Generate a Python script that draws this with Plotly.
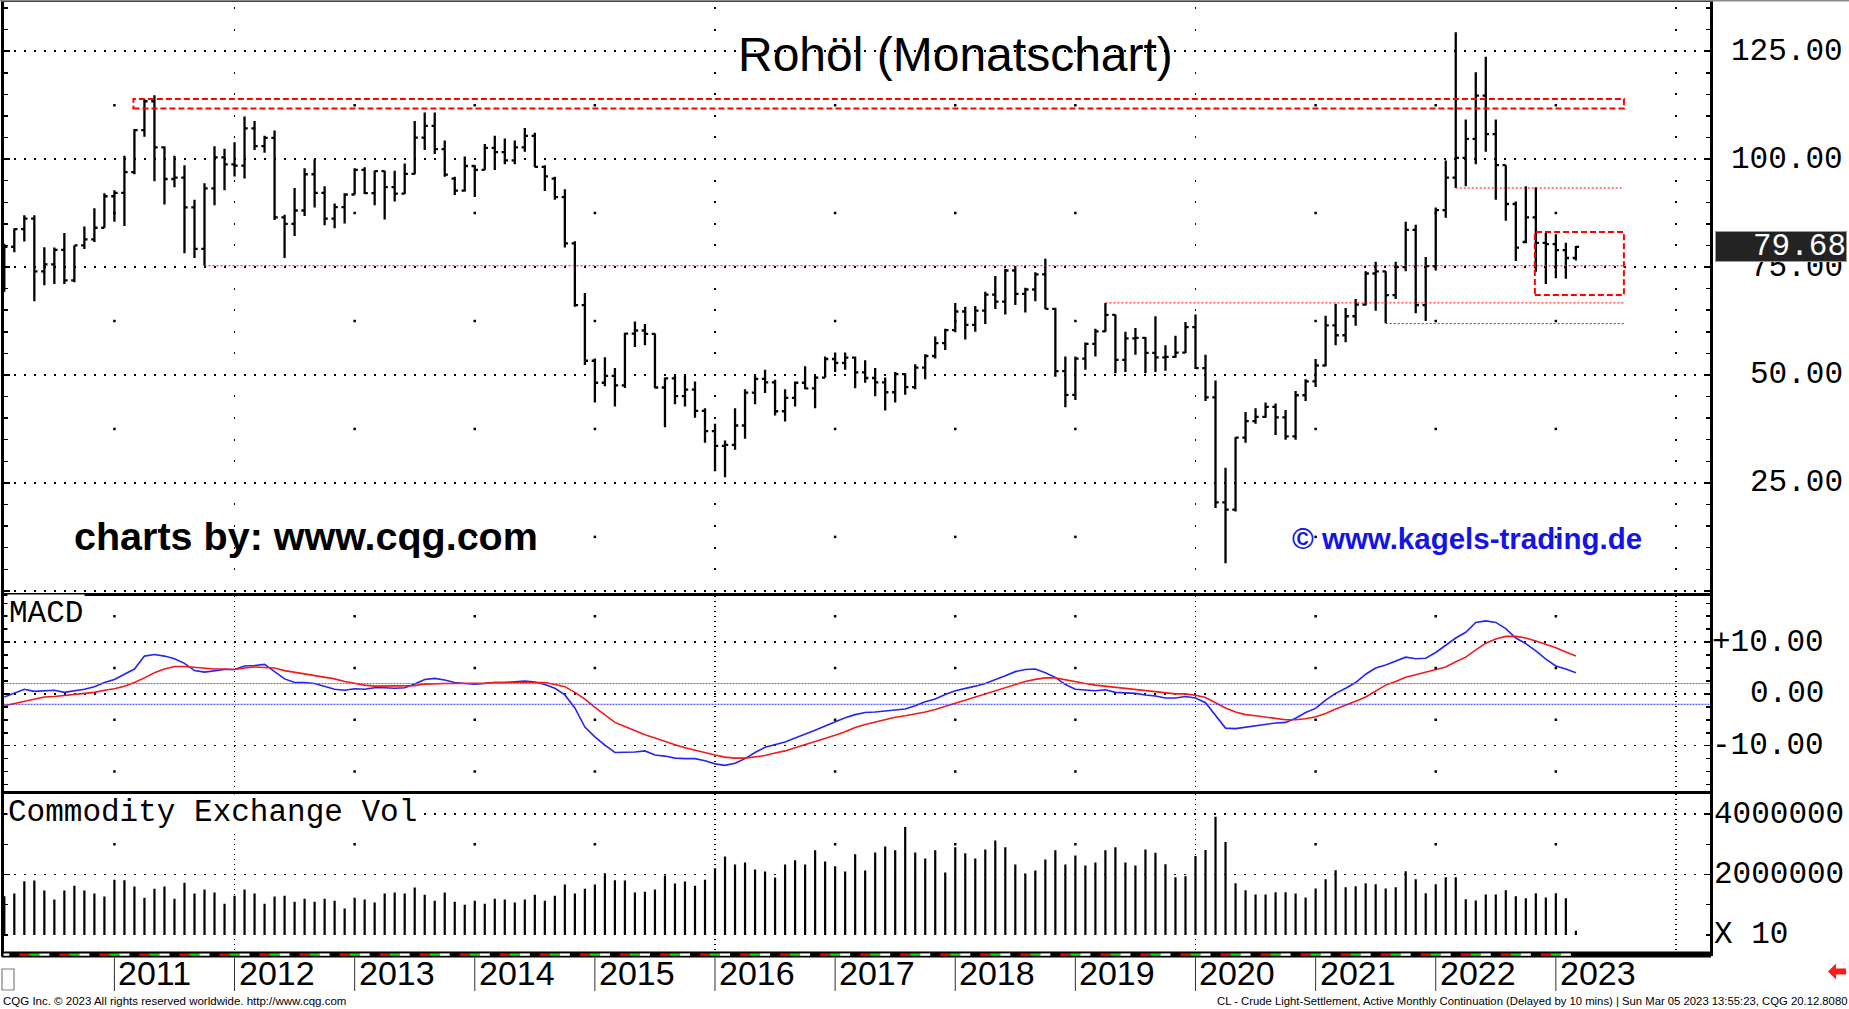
import plotly.graph_objects as go
import pandas as pd

# ---------------- data ----------------
months = [p.strftime("%Y-%m") for p in pd.period_range("2010-02", "2023-03", freq="M")]

opens = [
    72.9, 79.7, 83.8, 86.2, 74.0, 75.6, 79.0, 71.9, 80.0, 81.4, 84.1,
    91.4, 92.2, 97.0, 106.7, 113.4, 102.7, 95.4, 95.7, 88.8, 79.2, 93.2, 100.4,
    98.8, 98.5, 107.1, 103.0, 104.9, 86.5, 85.0, 88.1, 96.5, 92.2, 86.2, 88.9,
    91.8, 97.5, 92.1, 97.2, 93.5, 92.0, 96.6, 105.0, 107.7, 102.3, 95.5, 92.7,
    98.4, 97.5, 102.6, 101.6, 99.7, 102.7, 105.4, 98.2, 95.5, 91.2, 80.5, 66.2,
    53.3, 48.2, 49.8, 47.6, 59.6, 60.3, 59.5, 47.1, 49.2, 45.1, 46.6, 41.7,
    37.0, 33.6, 33.8, 38.3, 45.9, 49.1, 48.3, 41.6, 44.7, 48.2, 46.9, 49.4,
    53.7, 52.8, 54.0, 50.6, 49.3, 48.3, 46.0, 50.2, 47.2, 51.7, 54.4, 57.4,
    60.4, 64.7, 61.6, 64.9, 68.6, 67.0, 74.2, 68.8, 69.8, 73.3, 65.3, 50.9,
    45.4, 53.8, 57.2, 60.1, 63.9, 53.5, 58.5, 58.6, 55.1, 54.1, 54.2, 55.2,
    61.1, 51.6, 44.8, 20.5, 18.8, 35.5, 39.3, 40.3, 42.6, 40.2, 35.8, 45.3,
    48.5, 52.2, 61.5, 59.2, 63.6, 66.3, 73.5, 74.0, 68.5, 75.0, 83.6, 66.2,
    75.2, 88.2, 95.7, 100.3, 104.7, 114.7, 105.8, 98.6, 89.6, 80.8, 86.5, 80.6,
    80.3, 78.9, 77.1,
]
highs = [
    80.4, 83.9, 87.0, 87.0, 79.6, 79.5, 82.9, 80.0, 84.4, 88.6, 92.1,
    92.8, 100.8, 107.0, 113.9, 114.8, 103.0, 100.8, 98.6, 90.6, 94.4, 103.0, 102.4,
    103.9, 109.9, 108.8, 105.4, 106.6, 87.1, 93.3, 97.9, 99.9, 93.7, 89.7, 92.1,
    97.9, 98.1, 97.3, 97.3, 97.3, 99.0, 108.8, 110.8, 110.8, 104.3, 95.9, 100.6,
    98.6, 103.5, 105.4, 104.8, 104.3, 107.2, 106.1, 98.6, 95.9, 93.0, 81.0, 69.0,
    53.8, 54.1, 51.6, 59.8, 62.4, 61.8, 59.6, 49.4, 49.8, 49.8, 48.5, 42.3,
    38.7, 34.8, 42.3, 46.7, 49.8, 51.2, 48.9, 46.7, 48.5, 52.0, 49.8, 54.3,
    55.2, 55.2, 54.3, 53.4, 51.6, 49.4, 50.7, 50.4, 52.5, 54.8, 58.9, 60.7,
    66.7, 65.8, 66.0, 69.3, 72.9, 74.6, 75.1, 70.2, 73.8, 76.9, 65.6, 54.3,
    54.3, 57.5, 60.7, 66.7, 64.0, 60.0, 60.9, 58.8, 63.6, 56.9, 59.1, 62.3,
    64.0, 54.7, 48.7, 28.5, 35.6, 41.4, 42.3, 43.6, 43.4, 41.9, 46.3, 49.0,
    53.7, 63.7, 66.5, 65.5, 67.6, 74.0, 76.2, 74.0, 76.2, 85.5, 84.8, 77.3,
    88.8, 99.7, 129.4, 109.2, 120.1, 123.7, 109.2, 98.6, 90.2, 93.7, 93.5, 82.9,
    82.6, 80.6, 79.9,
]
lows = [
    69.3, 78.4, 80.9, 67.1, 70.8, 71.1, 71.1, 71.5, 79.2, 80.8, 84.1,
    85.5, 84.5, 96.5, 105.2, 94.9, 89.5, 93.5, 78.2, 77.1, 75.3, 89.3, 92.8,
    96.0, 95.5, 102.1, 101.5, 85.9, 77.1, 82.2, 86.8, 88.8, 84.7, 84.0, 85.1,
    91.8, 91.9, 89.3, 86.0, 90.2, 91.9, 96.5, 102.1, 101.2, 95.9, 91.7, 92.5,
    91.2, 97.5, 97.5, 98.8, 98.8, 101.7, 98.1, 92.6, 90.6, 79.5, 65.8, 52.3,
    43.6, 47.4, 42.7, 47.0, 56.5, 56.9, 46.9, 37.9, 43.2, 42.7, 40.1, 34.3,
    27.7, 26.3, 32.7, 35.2, 43.2, 45.8, 40.6, 39.2, 42.7, 46.7, 42.3, 49.4,
    50.7, 51.2, 46.9, 48.2, 45.1, 41.8, 43.6, 45.4, 46.7, 49.0, 53.8, 55.8,
    59.9, 58.2, 60.0, 61.8, 65.3, 64.0, 66.2, 64.5, 67.1, 65.3, 49.6, 42.5,
    44.2, 51.2, 54.3, 60.0, 50.4, 50.7, 54.7, 50.4, 50.7, 51.0, 54.0, 55.1,
    51.4, 44.0, 19.2, 6.4, 18.4, 34.3, 38.7, 40.1, 36.1, 35.0, 35.0, 44.0,
    47.2, 52.0, 56.9, 57.6, 61.4, 66.1, 64.9, 62.0, 67.6, 74.0, 64.3, 62.5,
    74.2, 86.4, 93.3, 93.7, 98.8, 101.7, 90.6, 85.7, 76.4, 80.5, 73.9, 71.1,
    72.4, 72.3, 76.5,
]
closes = [
    79.7, 83.8, 86.2, 74.0, 75.6, 79.0, 71.9, 80.0, 81.4, 84.1, 91.4,
    92.2, 97.0, 106.7, 113.4, 102.7, 95.4, 95.7, 88.8, 79.2, 93.2, 100.4, 98.8,
    98.5, 107.1, 103.0, 104.9, 86.5, 85.0, 88.1, 96.5, 92.2, 86.2, 88.9, 91.8,
    97.5, 92.1, 97.2, 93.5, 92.0, 96.6, 105.0, 107.7, 102.3, 96.4, 92.7, 98.4,
    97.5, 102.6, 101.6, 99.7, 102.7, 105.4, 98.2, 96.0, 91.2, 80.5, 66.2, 53.3,
    48.2, 49.8, 47.6, 59.6, 60.3, 59.5, 47.1, 49.2, 45.1, 46.6, 41.7, 37.0,
    33.6, 33.8, 38.3, 45.9, 49.1, 48.3, 41.6, 44.7, 48.2, 46.9, 49.4, 53.7,
    52.8, 54.0, 50.6, 49.3, 48.3, 46.0, 50.2, 47.2, 51.7, 54.4, 57.4, 60.4,
    64.7, 61.6, 64.9, 68.6, 67.0, 74.2, 68.8, 69.8, 73.3, 65.3, 50.9, 45.4,
    53.8, 57.2, 60.1, 63.9, 53.5, 58.5, 58.6, 55.1, 54.1, 54.2, 55.2, 61.1,
    51.6, 44.8, 20.5, 18.8, 35.5, 39.3, 40.3, 42.6, 40.2, 35.8, 45.3, 48.5,
    52.2, 61.5, 59.2, 63.6, 66.3, 73.5, 74.0, 68.5, 75.0, 83.6, 66.2, 75.2,
    88.2, 95.7, 100.3, 104.7, 114.7, 105.8, 98.6, 89.6, 79.5, 86.5, 80.6, 80.3,
    78.9, 77.1, 79.68,
]
macd_line = [
    -0.6, 0.1, 0.9, 0.5, 0.6, 0.7, 0.3, 0.6, 0.9, 1.4, 2.2,
    2.8, 3.8, 4.8, 7.3, 7.6, 7.3, 6.8, 5.9, 4.5, 4.2, 4.5, 4.7,
    4.7, 5.4, 5.5, 5.7, 4.3, 2.9, 2.2, 2.2, 2.0, 1.4, 0.9, 0.7,
    1.0, 0.9, 1.2, 1.2, 1.1, 1.2, 1.9, 2.8, 3.0, 2.7, 2.2, 2.0,
    1.9, 2.0, 2.2, 2.2, 2.3, 2.5, 2.3, 1.8, 1.1, -0.2, -2.7, -6.4,
    -8.3, -9.9, -11.3, -11.3, -11.2, -11.0, -11.8, -12.0, -12.4, -12.5, -12.5, -12.9,
    -13.5, -13.8, -13.4, -12.5, -11.3, -10.3, -9.8, -9.3, -8.5, -7.8, -7.0, -6.2,
    -5.4, -4.6, -4.0, -3.6, -3.5, -3.3, -3.2, -2.9, -2.3, -1.5, -1.0, -0.1,
    0.6, 1.0, 1.5, 2.0, 2.7, 3.5, 4.3, 4.7, 4.8, 4.1, 3.2, 1.8,
    0.9, 0.7, 0.6, 0.8, 0.3, 0.2, 0.1, -0.2, -0.4, -0.8, -0.8, -0.5,
    -0.8, -1.7, -4.1, -6.6, -6.7, -6.4, -6.1, -5.8, -5.6, -5.5, -4.7, -3.6,
    -2.8, -1.2, 0.1, 1.1, 2.2, 3.8, 5.0, 5.6, 6.4, 7.1, 6.8, 6.9,
    8.0, 9.4, 10.8, 11.9, 13.8, 14.1, 13.8, 12.6, 10.8, 9.7, 8.3, 6.7,
    5.4, 4.8, 4.1,
]
signal_line = [
    -2.3, -1.9, -1.5, -1.0, -0.6, -0.5, -0.3, 0.0, 0.1, 0.3, 0.7,
    1.0, 1.5, 2.2, 3.1, 4.1, 4.8, 5.3, 5.3, 5.1, 5.0, 4.8, 4.8,
    4.7, 5.0, 5.2, 5.1, 5.0, 4.5, 4.2, 3.9, 3.6, 3.3, 2.9, 2.4,
    2.0, 1.7, 1.5, 1.5, 1.5, 1.5, 1.6, 1.9, 2.0, 2.0, 2.0, 2.0,
    2.0, 2.1, 2.2, 2.2, 2.3, 2.3, 2.2, 2.2, 1.8, 1.4, 0.3, -1.0,
    -2.6, -4.1, -5.5, -6.3, -7.1, -7.9, -8.5, -9.2, -9.8, -10.4, -10.9, -11.3,
    -11.8, -12.2, -12.4, -12.4, -12.2, -11.9, -11.4, -11.0, -10.4, -9.8, -9.2, -8.7,
    -8.0, -7.3, -6.5, -5.9, -5.4, -4.9, -4.5, -4.2, -3.9, -3.5, -3.0, -2.4,
    -1.8, -1.2, -0.6, 0.05, 0.7, 1.3, 1.8, 2.4, 2.8, 3.1, 3.1, 2.7,
    2.3, 2.0, 1.7, 1.5, 1.3, 1.05, 0.86, 0.7, 0.5, 0.25, 0.0, 0.0,
    -0.25, -0.7, -1.7, -2.7, -3.5, -4.0, -4.2, -4.5, -4.8, -5.0, -5.0, -4.8,
    -4.4, -3.8, -2.9, -2.2, -1.4, -0.6, 0.6, 1.7, 2.4, 3.2, 3.7, 4.2,
    4.7, 5.2, 6.2, 7.1, 8.5, 9.8, 10.6, 11.1, 11.1, 10.8, 10.2, 9.6,
    8.9, 8.1, 7.3,
]
volume_mio = [
    1.28, 1.37, 1.78, 1.80, 1.47, 1.17, 1.47, 1.63, 1.47, 1.37, 1.27,
    1.83, 1.81, 1.60, 1.23, 1.53, 1.60, 1.20, 1.73, 1.37, 1.50, 1.40, 1.03,
    1.30, 1.50, 1.37, 1.03, 1.27, 1.30, 1.10, 1.20, 1.10, 1.20, 1.13, 0.87,
    1.23, 1.17, 1.07, 1.37, 1.40, 1.37, 1.57, 1.33, 1.13, 1.40, 1.10, 1.00,
    1.13, 1.03, 1.20, 1.17, 1.07, 1.17, 1.33, 1.13, 1.30, 1.67, 1.37, 1.53,
    1.67, 2.04, 1.81, 1.80, 1.40, 1.43, 1.50, 1.97, 1.70, 1.77, 1.63, 1.83,
    2.21, 2.60, 2.33, 2.40, 2.17, 2.10, 1.90, 2.33, 2.47, 2.33, 2.80, 2.43,
    2.27, 2.10, 2.67, 2.13, 2.73, 2.93, 2.80, 3.57, 2.73, 2.53, 2.80, 2.07,
    2.90, 2.70, 2.53, 2.83, 3.13, 2.90, 2.33, 2.03, 2.13, 2.50, 2.80, 2.33,
    2.63, 2.30, 2.40, 2.80, 2.90, 2.40, 2.30, 2.83, 2.72, 2.34, 1.91, 1.94,
    2.61, 2.81, 3.91, 3.08, 1.71, 1.48, 1.34, 1.34, 1.41, 1.41, 1.37, 1.24,
    1.54, 1.84, 2.14, 1.58, 1.61, 1.71, 1.68, 1.54, 1.58, 2.11, 1.84, 1.38,
    1.68, 1.91, 1.91, 1.18, 1.14, 1.34, 1.34, 1.48, 1.28, 1.21, 1.38, 1.24,
    1.38, 1.21, 0.14,
]

years = list(range(2011, 2024))
price_ticks = [125, 100, 75, 50, 25]
macd_ticks = [10, 0, -10]
macd_tick_text = ["+10.00", "0.00", "-10.00"]
vol_ticks = [4, 2, 0]
vol_tick_text = ["4000000", "2000000", "X 10"]
last_price = closes[-1]

# drawn annotations: support/resistance lines (start month, level) and boxes
line_starts = ["2011-10", "2019-04", "2021-08", "2022-03"]
line_levels = [75.3, 66.7, 61.9, 93.3]
zone_right = 4.8          # months beyond the last bar where the drawings end
box_left_month = ["2011-03", "2022-11"]
box_low = [111.7, 68.5]
box_high = [113.9, 83.1]

# ---------------- geometry ----------------
W, H = 1849, 1009
def fx(p): return p / W
def fy(p): return 1 - p / H

PLOT_L, PLOT_R = 3.5, 1710
MAIN_T, MAIN_B = 2.4, 593
MACD_T, MACD_B = 595.5, 791.3
VOL_T, VOL_B = 793.6, 953
x_range = [-0.08, 170.4]

pos = list(range(len(months)))
jan_pos = [months.index(f"{y}-01") for y in years]
grid_pos = [p for p, y in zip(jan_pos, years) if y % 4 == 0] + [jan_pos[-1] + 12]
plain_year_pos = [p for p in jan_pos if p not in grid_pos]
zone_end = pos[-1] + zone_right

MONO = "Liberation Mono, DejaVu Sans Mono, monospace"
SANS = "Liberation Sans, Arial, sans-serif"

fig = go.Figure()
fig.add_trace(go.Ohlc(
    x=pos, open=opens, high=highs, low=lows, close=closes,
    increasing=dict(line=dict(color="black", width=2.3)),
    decreasing=dict(line=dict(color="black", width=2.3)),
    tickwidth=0.32, hoverinfo="skip", xaxis="x", yaxis="y"))
fig.add_trace(go.Scatter(x=pos, y=macd_line, mode="lines",
                         line=dict(color="#2626f2", width=1.6), hoverinfo="skip",
                         xaxis="x2", yaxis="y2"))
fig.add_trace(go.Scatter(x=pos, y=signal_line, mode="lines",
                         line=dict(color="#f21a1a", width=1.6), hoverinfo="skip",
                         xaxis="x2", yaxis="y2"))
fig.add_trace(go.Bar(x=pos, y=volume_mio, width=0.22,
                     marker=dict(color="black", line=dict(width=0)),
                     hoverinfo="skip", xaxis="x3", yaxis="y3"))

# isolated grid dots at year columns
dot_style = dict(mode="markers", marker=dict(symbol="square", size=2.5, color="black"),
                 hoverinfo="skip")
main_half = [12.5, 37.5, 62.5, 87.5, 112.5]
fig.add_trace(go.Scatter(x=[p for p in plain_year_pos for _ in main_half],
                         y=[v for _ in plain_year_pos for v in main_half],
                         xaxis="x", yaxis="y", **dot_style))
macd_half = [-15, -5, 5, 15]
fig.add_trace(go.Scatter(x=[p for p in plain_year_pos for _ in macd_half],
                         y=[v for _ in plain_year_pos for v in macd_half],
                         xaxis="x2", yaxis="y2", **dot_style))
vol_half = [3]
fig.add_trace(go.Scatter(x=[p for p in plain_year_pos for _ in vol_half],
                         y=[v for _ in plain_year_pos for v in vol_half],
                         xaxis="x3", yaxis="y3", **dot_style))


def xax(anchor, dash, **kw):
    d = dict(domain=[fx(PLOT_L), fx(PLOT_R)], range=x_range, anchor=anchor,
             showticklabels=False, ticks="", tickmode="array", tickvals=grid_pos,
             showgrid=True, gridcolor="black", gridwidth=1.5, griddash=dash,
             zeroline=False, showline=True, linecolor="black", linewidth=2.5,
             mirror=True, fixedrange=True)
    d.update(kw)
    return d


def yax(anchor, dom, rng, **kw):
    d = dict(domain=[fy(dom[1]), fy(dom[0])], range=rng, anchor=anchor,
             showticklabels=False, ticks="inside", ticklen=6, tickwidth=1.5,
             tickcolor="black", showgrid=True, gridcolor="black", gridwidth=1.5,
             griddash="2px,8px", zeroline=False, showline=True, linecolor="black",
             linewidth=2.5, mirror="ticks", fixedrange=True)
    d.update(kw)
    return d


layout = dict(
    width=W, height=H, margin=dict(l=0, r=0, t=0, b=0, pad=0),
    paper_bgcolor="white", plot_bgcolor="white", showlegend=False,
    xaxis=xax("y", "0px,4.6px,2px,14.98px", rangeslider=dict(visible=False)),
    xaxis2=xax("y2", "1.5px,3.5px"),
    xaxis3=xax("y3", "1.5px,3.5px"),
    yaxis=yax("x", (MAIN_T, MAIN_B), [-0.5, 136.3], tickmode="linear", tick0=0, dtick=25,
              minor=dict(dtick=5, tick0=0, ticks="inside", ticklen=4, tickcolor="black",
                         showgrid=False)),
    yaxis2=yax("x2", (MACD_T, MACD_B), [-18.8, 19.0], tickmode="linear", tick0=0, dtick=10,
               minor=dict(dtick=2.5, tick0=0, ticks="inside", ticklen=4, tickcolor="black",
                          showgrid=False)),
    yaxis3=yax("x3", (VOL_T, VOL_B), [-0.6, 4.68], tickmode="array", tickvals=[2, 4],
               minor=dict(tickmode="array", tickvals=[0, 1, 3], ticks="inside", ticklen=4,
                          tickcolor="black", showgrid=False)),
)

shapes = []
# red dashed boxes
for left, lo, hi in zip(box_left_month, box_low, box_high):
    shapes.append(dict(type="rect", xref="x", yref="y", x0=months.index(left) - 0.1,
                       x1=zone_end, y0=lo, y1=hi, layer="above",
                       line=dict(color="#ff0000", width=2, dash="6px,3px")))
# red dotted support lines
for start, lvl in zip(line_starts, line_levels):
    shapes.append(dict(type="line", xref="x", yref="y", x0=months.index(start), x1=zone_end,
                       y0=lvl, y1=lvl, layer="above",
                       line=dict(color="#ff0000", width=1, dash="2px,2px")))
# MACD reference lines
shapes.append(dict(type="line", xref="paper", yref="y2", x0=fx(PLOT_L), x1=fx(PLOT_R),
                   y0=2.0, y1=2.0, line=dict(color="#ff3030", width=1, dash="2px,1px")))
shapes.append(dict(type="line", xref="paper", yref="y2", x0=fx(PLOT_L), x1=fx(PLOT_R),
                   y0=-2.0, y1=-2.0, line=dict(color="#3030ff", width=1, dash="2px,1px")))
# bottom strip
shapes.append(dict(type="rect", xref="paper", yref="paper", x0=fx(PLOT_L - 2), x1=fx(PLOT_R + 1),
                   y0=fy(957.5), y1=fy(951.5), fillcolor="black", line=dict(width=0),
                   layer="above"))
strip_colors = {2: "#ff0000", 3: "#00e000", 0: "#ffffff"}
for p in pos:
    c = strip_colors.get(p % 4)
    if c:
        shapes.append(dict(type="rect", xref="x3", yref="paper", x0=p - 0.5, x1=p + 0.5,
                           y0=fy(955.8), y1=fy(953.4), fillcolor=c, line=dict(width=0),
                           layer="above"))
# year separators below the strip
for p in jan_pos:
    shapes.append(dict(type="line", xref="x3", yref="paper", x0=p, x1=p,
                       y0=fy(957.5), y1=fy(991), line=dict(color="#333333", width=1)))
# top border
shapes.append(dict(type="line", xref="paper", yref="paper", x0=0, x1=1, y0=fy(0.7), y1=fy(0.7),
                   line=dict(color="#8a8a8a", width=1.5)))
# little box bottom-left and red arrow bottom-right
shapes.append(dict(type="rect", xref="paper", yref="paper", x0=fx(2), x1=fx(14),
                   y0=fy(990), y1=fy(969), line=dict(color="#808080", width=1.2)))
arrow = [(1828, 971.5), (1836, 963.5), (1836, 968.5), (1846, 968.5), (1846, 974.5),
         (1836, 974.5), (1836, 979.5)]
shapes.append(dict(type="path", xref="paper", yref="paper",
                   path="M " + " L ".join(f"{fx(a):.5f},{fy(b):.5f}" for a, b in arrow) + " Z",
                   fillcolor="#ff1a1a", line=dict(width=0)))
layout["shapes"] = shapes

ann = []
def text(t, x, y, size, family=MONO, color="black", xanchor="left", xref="paper", yref="paper",
         **kw):
    ann.append(dict(text=t, x=x, y=y, xref=xref, yref=yref, xanchor=xanchor, yanchor="middle",
                    showarrow=False, font=dict(family=family, size=size, color=color), **kw))

for v in price_ticks:
    text(f"{v:.2f}", fx(1845), v, 31, xanchor="right", yref="y")
for v, t in zip(macd_ticks, macd_tick_text):
    text(t, fx(1826), v, 31, xanchor="right", yref="y2")
for v, t in zip(vol_ticks, vol_tick_text):
    text(t, fx(1712), v, 31, xanchor="left", yref="y3")
text(f"{last_price:.2f}", fx(1847), last_price, 31, color="white", xanchor="right", yref="y",
     bgcolor="#232323", bordercolor="#9a9a9a", borderwidth=1, borderpad=0,
     width=130, height=29, align="right")

for p, y in zip(jan_pos, years):
    text(str(y), p, fy(973), 34, family=SANS, xanchor="left", xref="x3", xshift=2)

text("Rohöl (Monatschart)", fx(955), fy(54), 48, family=SANS, xanchor="center")
text("<b>charts by: www.cqg.com</b>", fx(72), fy(536), 39.5, family=SANS)
text("<b>© www.kagels-trading.de</b>", fx(1290), fy(538), 29.5, family=SANS, color="#1414e6")
text("MACD", fx(7), fy(613), 31, bgcolor="white")
text("Commodity Exchange Vol", fx(7), fy(812), 31, bgcolor="white", borderpad=0)
text("CQG Inc. © 2023 All rights reserved worldwide. http://www.cqg.com", fx(1), fy(1001),
     11.5, family=SANS)
text("CL - Crude Light-Settlement, Active Monthly Continuation (Delayed by 10 mins) | "
     "Sun Mar 05 2023 13:55:23, CQG 20.12.8080", fx(1849), fy(1001), 11.3, family=SANS,
     xanchor="right")
layout["annotations"] = ann

fig.update_layout(**layout)
fig.write_html("out.html", config={"displayModeBar": False, "staticPlot": True},
               post_script="document.body.style.margin='0px';"
                           "document.body.style.overflow='hidden';")
